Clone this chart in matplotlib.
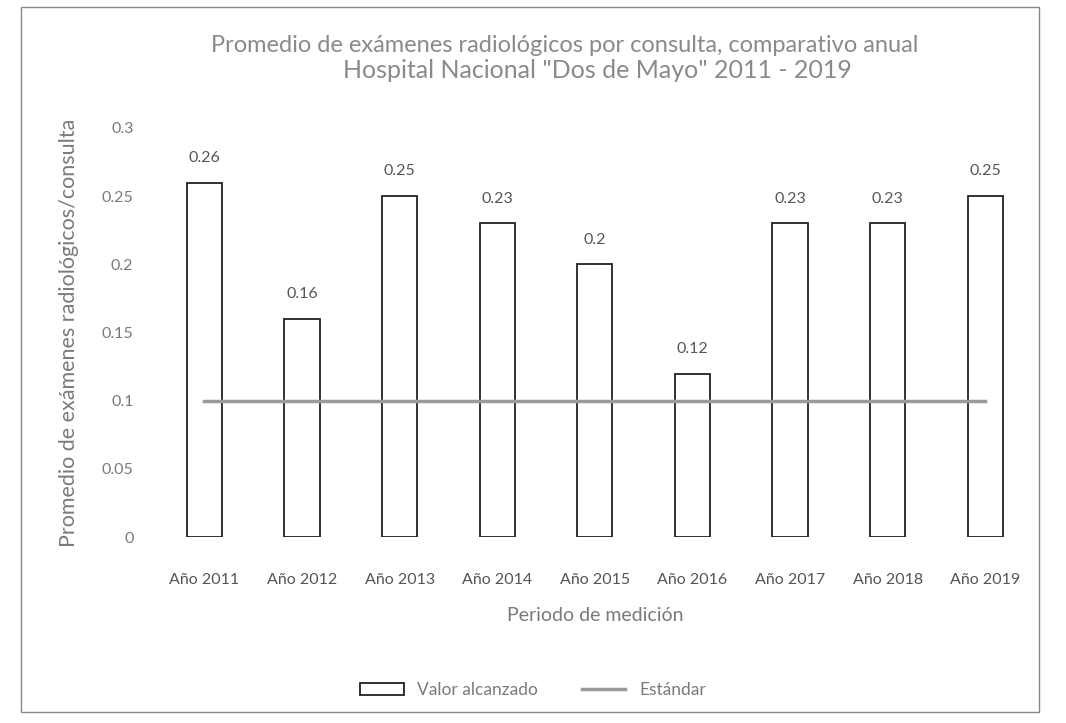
import matplotlib
matplotlib.use("Agg")
import matplotlib.pyplot as plt
from matplotlib.patches import Patch, Rectangle
from matplotlib.lines import Line2D

plt.rcParams['font.family'] = ['Lato', 'DejaVu Sans']

categories = ["Año 2011", "Año 2012", "Año 2013", "Año 2014", "Año 2015",
              "Año 2016", "Año 2017", "Año 2018", "Año 2019"]
valor_alcanzado = [0.26, 0.16, 0.25, 0.23, 0.2, 0.12, 0.23, 0.23, 0.25]
estandar = [0.1, 0.1, 0.1, 0.1, 0.1, 0.1, 0.1, 0.1, 0.1]
yticks = [0, 0.05, 0.1, 0.15, 0.2, 0.25, 0.3]
ytick_labels = ["0", "0.05", "0.1", "0.15", "0.2", "0.25", "0.3"]

title_line1 = "Promedio de exámenes radiológicos por consulta, comparativo anual"
title_line2 = 'Hospital Nacional "Dos de Mayo" 2011 - 2019'
text_color = "#7a7a7a"

fig = plt.figure(figsize=(10.66, 7.23), dpi=100)
ax = fig.add_axes([0.146, 0.257, 0.824, 0.566])

x = list(range(len(categories)))
ax.bar(x, valor_alcanzado, width=0.36, color="white", edgecolor="#222222", linewidth=1.3, zorder=2)
ax.plot(x, estandar, color="#9a9a9a", linewidth=2.5, zorder=3)

for xi, v in zip(x, valor_alcanzado):
    ax.text(xi, v + 0.013, f"{v:g}", ha="center", va="bottom", fontsize=11.5, color="#555555")

ax.set_xlim(-0.5, len(categories) - 0.5)
ax.set_ylim(0, 0.3)
ax.set_yticks(yticks)
ax.set_yticklabels(ytick_labels, fontsize=11.5, color=text_color)
ax.set_xticks(x)
ax.set_xticklabels(categories, fontsize=11.5, color="#555555")
ax.tick_params(axis="y", length=0, pad=16)
ax.tick_params(axis="x", length=0, pad=26)
for s in ax.spines.values():
    s.set_visible(False)

ax.set_ylabel("Promedio de exámenes radiológicos/consulta", fontsize=15.5, color=text_color, labelpad=16)
ax.set_xlabel("Periodo de medición", fontsize=14, color=text_color, labelpad=14)

fig.text(0.53, 0.937, title_line1, ha="center", va="center", fontsize=17, color="#8a8a8a")
fig.text(0.56, 0.902, title_line2, ha="center", va="center", fontsize=18, color="#8a8a8a")

handles = [Patch(facecolor="white", edgecolor="#222222", linewidth=1.3, label="Valor alcanzado"),
           Line2D([0], [0], color="#9a9a9a", linewidth=2.5, label="Estándar")]
fig.legend(handles=handles, loc="center", bbox_to_anchor=(0.5, 0.045), ncol=2, frameon=False,
           fontsize=12.5, labelcolor=text_color, handlelength=2.5, columnspacing=2.5)

fig.patches.append(Rectangle((0.02, 0.015), 0.955, 0.975, transform=fig.transFigure,
                             fill=False, edgecolor="#888888", linewidth=1.0))

fig.savefig("out.png", dpi=100)
